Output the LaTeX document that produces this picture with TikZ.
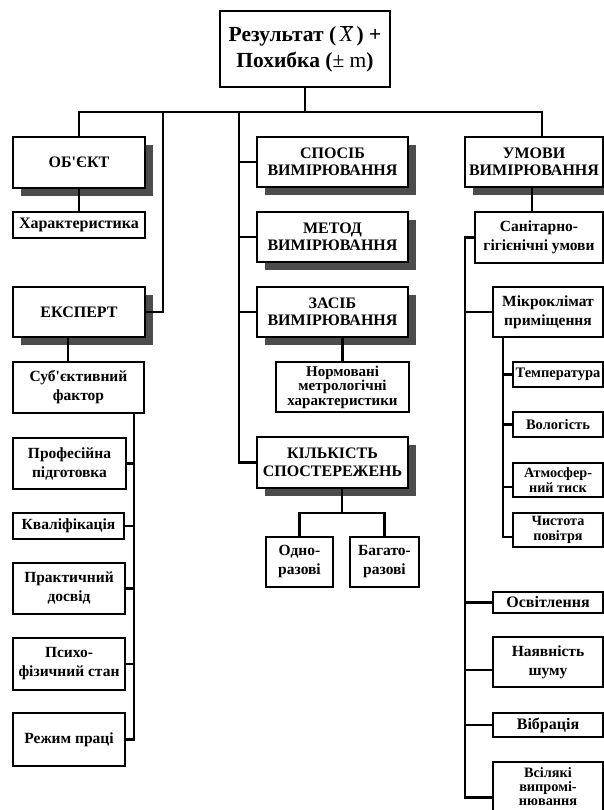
\documentclass[tikz,border=0pt]{standalone}
\usepackage{fontspec}
\setmainfont{Liberation Serif}[Ligatures=TeXOff]
\usetikzlibrary{shadows}
\tikzset{
  box/.style={draw=black, line width=2.2pt, fill=white, inner sep=1pt, align=center,
    font=\bfseries\fontsize{16}{17.5}\selectfont},
  shad/.style={general shadow={fill=black!70, shadow xshift=8pt, shadow yshift=-8pt}},
  big/.style={font=\bfseries\fontsize{21.5}{26}\selectfont},
  mid/.style={font=\bfseries\fontsize{15.5}{19}\selectfont},
  sm/.style={font=\bfseries\fontsize{14.5}{15}\selectfont},
  xs/.style={font=\bfseries\fontsize{14.2}{14.5}\selectfont},
  conn/.style={draw=black, line width=2.1pt, line cap=rect},
}
\newcommand\bx[7][]{\node[box,#1,minimum width={(#5-#3)*1pt},minimum height={(#6-#4)*1pt}] (#2) at ({(#3+#5)/2},{(#4+#6)/2}) {#7};}
\begin{document}
\begin{tikzpicture}[x=1pt,y=-1pt]
\useasboundingbox (0,0) rectangle (604,810);
\clip (0,0) rectangle (604,810);
% top
\bx[big]{top}{220}{11}{390}{87}{Результат (\,$\overline{\mbox{\normalfont\itshape X}}$\,) +\\Похибка (\textnormal{± m})}
% left column
\bx[shad]{obj}{13}{137}{145}{188}{ОБ'ЄКТ}
\bx{xar}{13}{212}{145}{238}{Характеристика}
\bx[shad]{exp}{13}{287}{145}{337}{ЕКСПЕРТ}
\bx[mid]{sub}{13}{362}{144}{413}{Суб'єктивний\\фактор}
\bx[mid]{prof}{13}{438}{126}{489}{Професійна\\підготовка}
\bx[mid]{kval}{13}{513}{124}{539}{Кваліфікація}
\bx[mid]{prak}{13}{563}{125}{614}{Практичний\\досвід}
\bx[mid]{psy}{13}{638}{125}{690}{Психо-\\фізичний стан}
\bx[mid]{rezh}{13}{713}{125}{766}{Режим праці}
% middle column
\bx[shad]{sp}{257}{137}{408}{187}{СПОСІБ\\ВИМІРЮВАННЯ}
\bx[shad]{met}{257}{212}{408}{262}{МЕТОД\\ВИМІРЮВАННЯ}
\bx[shad]{zas}{257}{287}{408}{337}{ЗАСІБ\\ВИМІРЮВАННЯ}
\bx[font=\bfseries\fontsize{15}{14.6}\selectfont]{norm}{276}{362}{409}{412}{Нормовані\\метрологічні\\характеристики}
\bx[shad]{kil}{257}{437}{408}{488}{КІЛЬКІСТЬ\\СПОСТЕРЕЖЕНЬ}
\bx[mid]{odno}{266}{537}{333}{587}{Одно-\\разові}
\bx[mid]{bag}{350}{537}{419}{587}{Багато-\\разові}
% right column
\bx[shad]{umo}{465}{137}{603}{187}{УМОВИ\\ВИМІРЮВАННЯ}
\bx[mid]{san}{475}{212}{603}{263}{Санітарно-\\гігієнічні умови}
\bx[mid]{mik}{493}{287}{603}{337}{Мікроклімат\\приміщення}
\bx[sm]{temp}{513}{362}{603}{387}{Температура}
\bx[sm]{vol}{513}{412}{603}{437}{Вологість}
\bx[xs]{atm}{513}{463}{603}{497}{Атмосфер-\\ний тиск}
\bx[xs]{chy}{513}{513}{603}{547}{Чистота\\повітря}
\bx{osv}{493}{592}{603}{613}{Освітлення}
\bx[mid]{nay}{493}{637}{603}{687}{Наявність\\шуму}
\bx{vib}{493}{713}{603}{737}{Вібрація}
\bx[font=\bfseries\fontsize{14.3}{13.6}\selectfont]{vsil}{493}{762}{603}{811}{Всілякі\\випромі-\\нювання}
% connectors
\coordinate (busR) at (542,112);
\coordinate (be) at (163,112);
\coordinate (bm) at (239,112);
\draw[conn] (obj.north) |- (busR) -- (busR |- umo.north);
\draw[conn] (top.south) -- (top.south |- busR);
\draw[conn] (be) |- (exp.east);
\draw[conn] (bm) |- (kil.west);
\draw[conn] (sp.west) -- (sp.west -| bm);
\draw[conn] (met.west) -- (met.west -| bm);
\draw[conn] (zas.west) -- (zas.west -| bm);
\draw[conn] (obj.south) -- (xar.north);
\draw[conn] ([xshift=-11pt]exp.south) -- ([xshift=-11pt]exp.south |- sub.north);
\coordinate (lv) at (134,413);
\draw[conn] (lv) |- (rezh.east);
\draw[conn] (prof.east) -- (prof.east -| lv);
\draw[conn] (kval.east) -- (kval.east -| lv);
\draw[conn] (prak.east) -- (prak.east -| lv);
\draw[conn] (psy.east) -- (psy.east -| lv);
\draw[conn] (norm.north) -- (norm.north |- zas.south);
\coordinate (kj) at (342,513);
\draw[conn] (kil.south -| kj) -- (kj);
\draw[conn] (odno.north) |- (kj) -| (bag.north);
\coordinate (uj) at (532,190);
\draw[conn] (umo.south -| uj) -- (san.north -| uj);
\coordinate (rv) at (465,0);
\draw[conn] (san.west) -- (san.west -| rv) |- ([yshift=-11pt]vsil.west);
\draw[conn] (mik.west) -- (mik.west -| rv);
\draw[conn] (osv.west) -- (osv.west -| rv);
\draw[conn] ([yshift=-8pt]nay.west) -- ([yshift=-8pt]nay.west -| rv);
\draw[conn] (vib.west) -- (vib.west -| rv);
\coordinate (iv) at (503,0);
\draw[conn] (mik.south -| iv) |- ([yshift=-7pt]chy.west);
\draw[conn] (temp.west) -- (temp.west -| iv);
\draw[conn] (vol.west) -- (vol.west -| iv);
\draw[conn] ([yshift=-7pt]atm.west) -- ([yshift=-7pt]atm.west -| iv);
\end{tikzpicture}
\end{document}
